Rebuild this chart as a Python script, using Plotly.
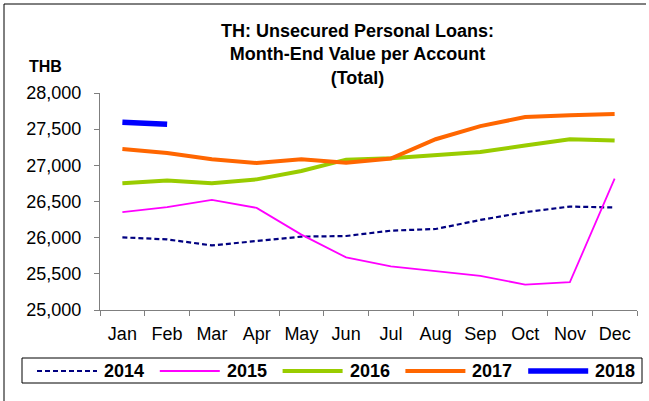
import plotly.graph_objects as go

months = ["Jan", "Feb", "Mar", "Apr", "May", "Jun", "Jul", "Aug", "Sep", "Oct", "Nov", "Dec"]
y2014 = [26004, 25976, 25893, 25958, 26014, 26023, 26097, 26120, 26245, 26352, 26430, 26417]
y2015 = [26352, 26421, 26523, 26412, 26042, 25727, 25602, 25542, 25472, 25352, 25384, 26815]
y2016 = [26754, 26792, 26754, 26806, 26921, 27079, 27097, 27135, 27185, 27274, 27361, 27343]
y2017 = [27227, 27171, 27083, 27032, 27083, 27037, 27093, 27361, 27542, 27667, 27694, 27708]
y2018 = [27595, 27569]

series_names = ["2014", "2015", "2016", "2017", "2018"]
series_values = [y2014, y2015, y2016, y2017, y2018]
series_styles = [
    dict(color="#000080", width=2.2, dash="5px,3px"),
    dict(color="#FF00FF", width=1.8),
    dict(color="#99CC00", width=4),
    dict(color="#FF6600", width=4),
    dict(color="#0000FF", width=5.5),
]

FONT = "Liberation Sans, Arial, sans-serif"
W, H = 649, 401
L, R, T, B = 100, 637, 93, 310  # plot area in px

def px(x):
    return (x - L) / (R - L)

def py(y):
    return (B - y) / (B - T)

fig = go.Figure()
for name, vals, style in zip(series_names, series_values, series_styles):
    fig.add_trace(go.Scatter(x=months[:len(vals)], y=vals, name=name, mode="lines",
                             line=style, showlegend=False))

fig.update_layout(
    width=W, height=H,
    margin=dict(l=L, r=W - R, t=T, b=H - B, autoexpand=False),
    paper_bgcolor="white", plot_bgcolor="white",
    font=dict(family=FONT, color="black", size=18),
    showlegend=False,
    xaxis=dict(type="category", categoryorder="array", categoryarray=months,
               range=[-0.5, 11.5], showline=True, linecolor="#7f7f7f", linewidth=1,
               ticks="outside", tickson="boundaries", ticklen=5, tickcolor="#7f7f7f",
               ticklabelstandoff=7,
               showgrid=False, zeroline=False, tickfont=dict(size=18)),
    yaxis=dict(range=[25000, 28000], dtick=500, tickformat=",", showline=True,
               linecolor="#7f7f7f", linewidth=1, ticks="outside", ticklen=5,
               tickcolor="#7f7f7f", showgrid=False, zeroline=False,
               ticklabelstandoff=9,
               tickfont=dict(size=18)),
)

# title and unit label
fig.add_annotation(text="<b>TH: Unsecured Personal Loans:<br>Month-End Value per Account<br>(Total)</b>",
                   xref="paper", yref="paper", x=px(357), y=py(54), xanchor="center", yanchor="middle",
                   showarrow=False, font=dict(family=FONT, size=18, color="black"))
fig.add_annotation(text="<b>THB</b>", xref="paper", yref="paper", x=px(45), y=py(66),
                   xanchor="center", yanchor="middle", showarrow=False,
                   font=dict(family=FONT, size=16, color="black"))

# legend (boxed, horizontal, long line samples)
fig.add_shape(type="rect", xref="paper", yref="paper", x0=px(22), x1=px(642), y0=py(358), y1=py(383),
              line=dict(color="black", width=1), fillcolor="white")
for i, (name, style) in enumerate(zip(series_names, series_styles)):
    x0 = 37 + 122.8 * i
    fig.add_shape(type="line", xref="paper", yref="paper", x0=px(x0), x1=px(x0 + 60),
                  y0=py(371), y1=py(371), line=style)
    fig.add_annotation(text="<b>" + name + "</b>", xref="paper", yref="paper",
                       x=px(x0 + 65), y=py(371), xanchor="left", yanchor="middle",
                       showarrow=False, font=dict(family=FONT, size=18, color="black"))

# chart-area border (top and left edges visible)
fig.add_shape(type="line", xref="paper", yref="paper", x0=px(4), x1=px(646), y0=py(4), y1=py(4),
              line=dict(color="black", width=1))
fig.add_shape(type="line", xref="paper", yref="paper", x0=px(4), x1=px(4), y0=py(4), y1=py(401),
              line=dict(color="black", width=1))

fig.write_html("out.html", config={"displayModeBar": False},
               post_script="document.body.style.margin='0px';")
